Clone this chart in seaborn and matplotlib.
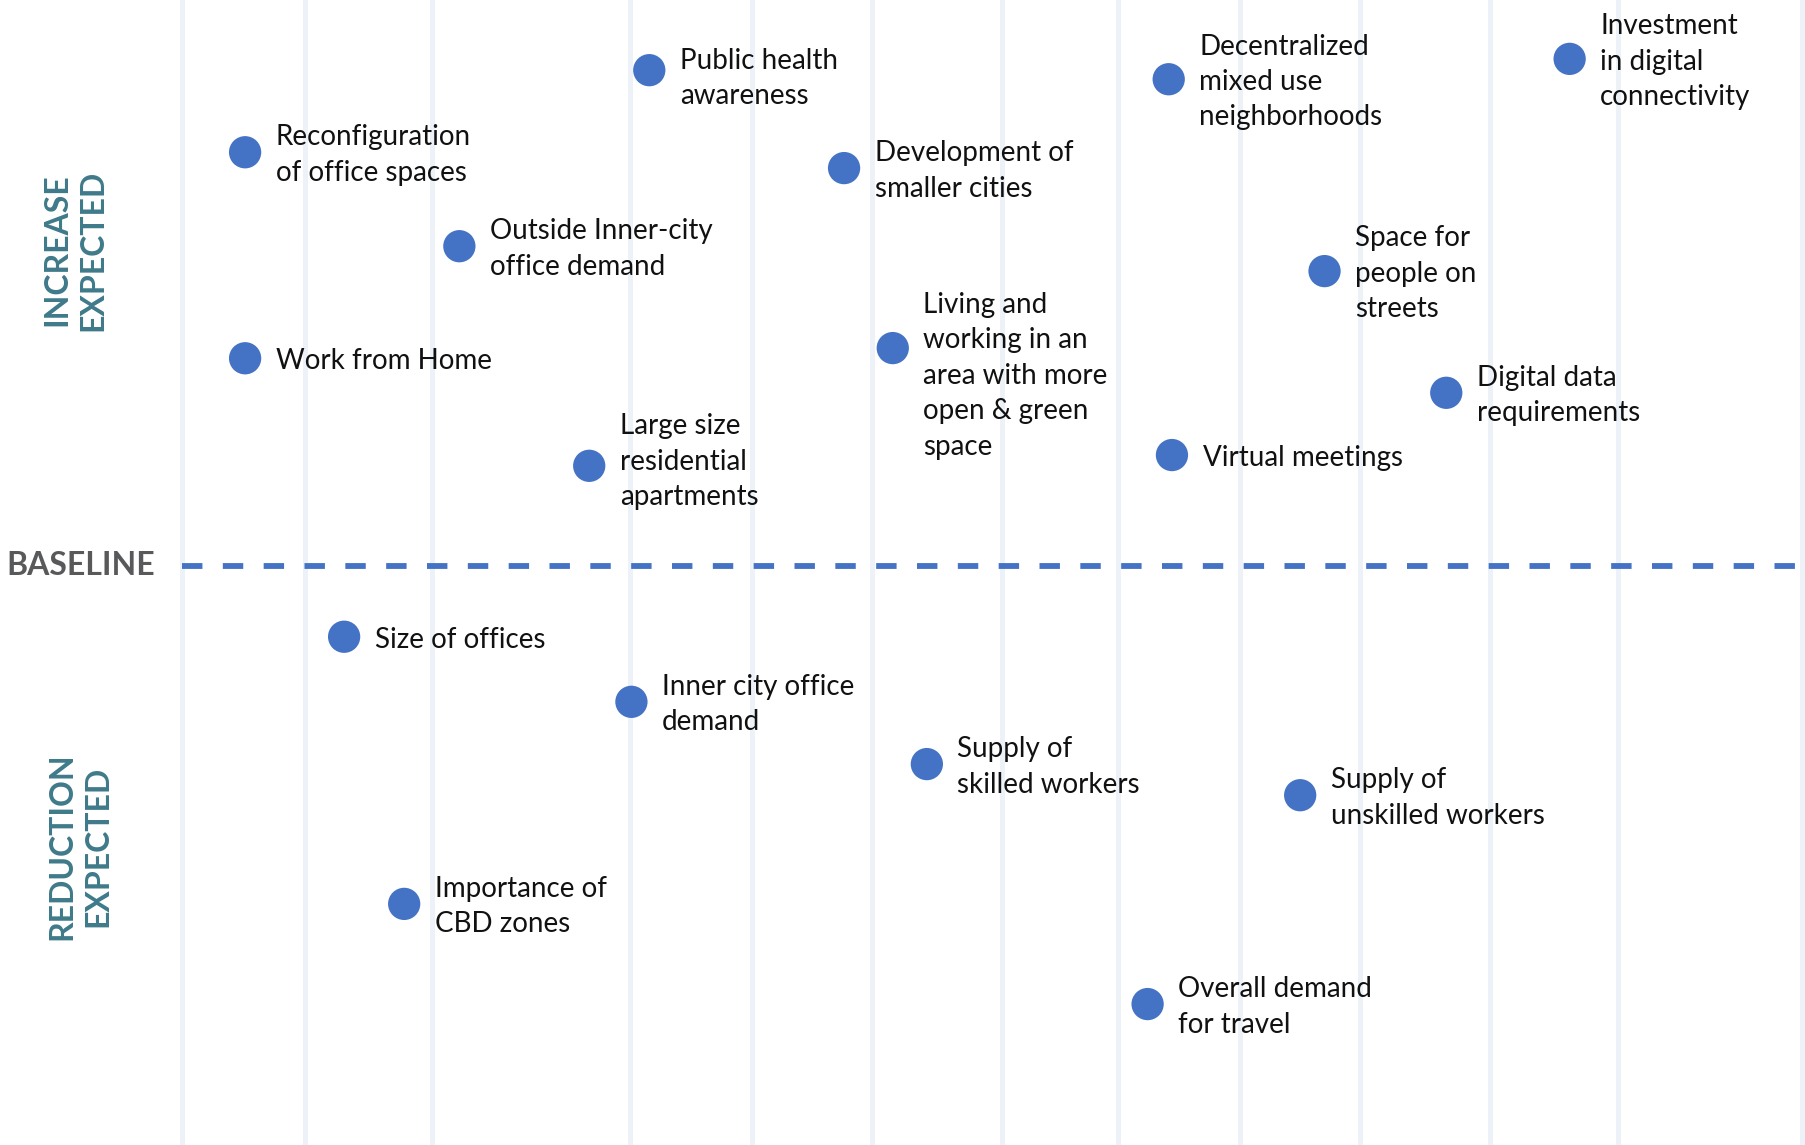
# Impact scatter: expected increase / reduction of urban factors
import matplotlib
matplotlib.use("Agg")
import matplotlib.pyplot as plt
import seaborn as sns
import pandas as pd

# factor labels
factors = [
    "Reconfiguration\nof office spaces",
    "Public health\nawareness",
    "Development of\nsmaller cities",
    "Decentralized\nmixed use\nneighborhoods",
    "Investment\nin digital\nconnectivity",
    "Outside Inner-city\noffice demand",
    "Work from Home",
    "Space for\npeople on\nstreets",
    "Living and\nworking in an\narea with more\nopen & green\nspace",
    "Digital data\nrequirements",
    "Large size\nresidential\napartments",
    "Virtual meetings",
    "Size of offices",
    "Inner city office\ndemand",
    "Supply of\nskilled workers",
    "Supply of\nunskilled workers",
    "Importance of\nCBD zones",
    "Overall demand\nfor travel",
]
# horizontal position (0-100)
spread = [3.9, 28.8, 40.8, 60.8, 85.5, 17.1, 3.9, 70.4, 43.8, 77.9,
          25.1, 61.0, 10.0, 27.7, 45.9, 68.9, 13.7, 59.5]
# expected change vs baseline (+ increase, - reduction)
change = [73.1, 87.6, 70.3, 86.0, 89.6, 56.5, 36.7, 52.1, 38.5, 30.6,
          17.7, 19.6, -12.5, -24.0, -35.0, -40.5, -59.7, -77.4]
# background column guides
columns = [0, 7.6, 15.4, 27.6, 35.1, 42.5, 50.5, 57.7, 65.2, 72.6, 80.6, 88.5, 99.8]

df = pd.DataFrame({"factor": factors, "spread": spread, "change": change})

sns.set_style("white")
plt.rcParams["font.family"] = ["Lato", "DejaVu Sans"]

fig = plt.figure(figsize=(18.05, 11.45), dpi=100)
ax = fig.add_axes([0, 0, 1, 1])

blue = "#4472C4"
teal = "#3F7A8A"

for c in columns:
    ax.axvline(c, color="#EDF2F9", lw=3.6, zorder=0)

ax.axhline(0, xmin=11.2 / 111.2, color=blue, lw=4.2, ls=(0, (3.5, 3.5)), zorder=1)

sns.scatterplot(data=df, x="spread", y="change", s=540, color=blue,
                edgecolor="none", ax=ax, zorder=3, legend=False)

nudge = {factors[8]: -18, factors[1]: -4, factors[10]: 5}
for _, r in df.iterrows():
    ax.annotate(r["factor"], (r["spread"], r["change"]),
                xytext=(22, nudge.get(r["factor"], 0) - 2), textcoords="offset points",
                ha="left", va="center", fontsize=20, color="#111111",
                linespacing=1.45, zorder=4)

ax.text(-10.8, 0, "BASELINE", ha="left", va="center", fontsize=23,
        fontweight="bold", color="#58595B")
ax.text(-6.6, 55.8, "INCREASE\nEXPECTED", rotation=90, ha="center", va="center",
        fontsize=23, fontweight="bold", color=teal, linespacing=1.3)
ax.text(-6.3, -49.5, "REDUCTION\nEXPECTED", rotation=90, ha="center", va="center",
        fontsize=23, fontweight="bold", color=teal, linespacing=1.3)

ax.set_xlim(-11.2, 100)
ax.set_ylim(-102.3, 100)
ax.axis("off")

fig.savefig("out.png", dpi=100)
